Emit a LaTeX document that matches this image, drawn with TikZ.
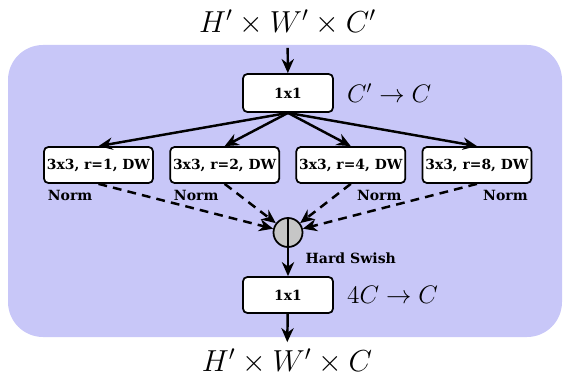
\documentclass[tikz,border=0pt]{standalone}
\usepackage{fontspec}
\newfontfamily\blkfont{DejaVu Serif}
\usepackage{amsmath}
\usepackage{xcolor}
\usepackage{tikz}
\usetikzlibrary{positioning,arrows.meta}
\definecolor{bgblue}{RGB}{200,199,248}

\begin{document}
\begin{tikzpicture}[
    blk/.style={draw,line width=1pt,fill=white,rounded corners=2.5pt,font=\blkfont\bfseries\fontsize{7.9}{10}\selectfont,minimum height=0.72cm,inner sep=1pt},
    lbl/.style={font=\blkfont\bfseries\fontsize{8}{10}\selectfont},
    arr/.style={-{Stealth[length=8pt,width=7pt]},line width=1.4pt},
    dsh/.style={arr,dash pattern=on 5pt off 3.5pt}]
    \useasboundingbox (0,0) rectangle (11.26,7.5);
        \fill[bgblue,rounded corners=0.7cm] (0.16,0.76) rectangle (11.24,6.6);
        \node (in) at (5.75,7.06) {\fontsize{18}{22}\selectfont $H'\times W'\times C'$};
        \node[blk,minimum width=1.8cm,minimum height=0.76cm] (conv1) at (5.76,5.64) {1x1};
        \node[right=4pt of conv1] (red1) {\Large $C'\rightarrow C$};
        \draw[arr,shorten <=4pt] (in) -- (conv1);
        \node[circle,draw,line width=1pt,fill=gray!45,minimum size=0.58cm,inner sep=0pt] (sum) at (5.76,2.85) {};
        \draw[line width=1pt] (sum.north) -- (sum.south);
        \foreach \r [count=\i] in {1,2,4,8}{
            \node[blk,minimum width=2.18cm] (dw\i) at ({1.97+2.523*(\i-1)},4.2) {3x3, r=\r, DW};
            \draw[arr] (conv1.south) -- (dw\i.north);
            \draw[dsh] (dw\i.south) -- (sum);
        }
        \node[lbl,below left] (norm1) at (dw1.south) {Norm};
        \node[lbl,below left] (norm2) at (dw2.south) {Norm};
        \node[lbl,below right] (norm3) at (dw3.south) {Norm};
        \node[lbl,below right] (norm4) at (dw4.south) {Norm};
        \node[blk,minimum width=1.8cm] (conv2) at (5.76,1.6) {1x1};
        \node[right=4pt of conv2] (red2) {\Large $4C\rightarrow C$};
        \draw[arr] (sum.south) -- node[lbl,pos=0.37,right=6pt] (act) {Hard Swish} (conv2.north);
        \node (out) at (5.74,0.28) {\fontsize{18}{22}\selectfont $H'\times W'\times C$};
        \draw[arr] (conv2) -- (out);
    \end{tikzpicture}
\end{document}
